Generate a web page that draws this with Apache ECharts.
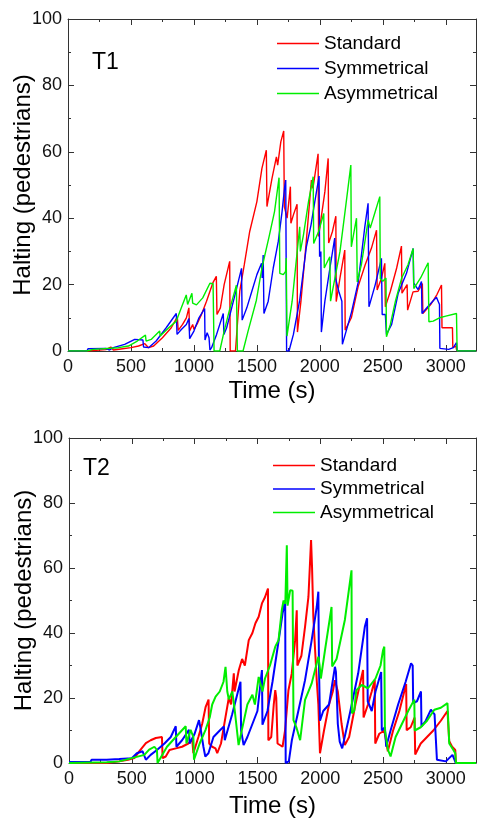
<!DOCTYPE html>
<html>
<head>
<meta charset="utf-8">
<script src="https://cdn.jsdelivr.net/npm/echarts@6/dist/echarts.min.js"></script>
<style>
  html, body { margin: 0; padding: 0; background: #fff; }
  #main { width: 480px; height: 820px; }
</style>
</head>
<body>
<div id="main"></div>
<script>
// series names and panel labels
var names = ['Standard', 'Symmetrical', 'Asymmetrical'];
var panels = ['T1', 'T2'];
var xTicks = [0, 500, 1000, 1500, 2000, 2500, 3000];
var yTicks = [0, 20, 40, 60, 80, 100];

// T1 : [time (s), halting pedestrians]
var t1Standard = [[0,0],[150,0],[300,0.4],[340,1.2],[360,0.3],[420,0.6],[500,1],[560,1.5],[610,2.2],[640,1],[680,1.5],[750,4],[820,7],[868,10.3],[875,6.2],[910,8],[940,10],[960,13],[966,6],[990,8],[1000,6.5],[1030,8.5],[1060,11],[1100,15],[1150,20.5],[1178,22.5],[1183,11],[1210,13],[1240,20],[1284,27],[1288,0],[1330,0],[1364,18],[1400,26],[1443,36],[1500,45],[1540,55],[1575,60.5],[1580,43.5],[1620,52],[1655,58.5],[1665,56],[1690,63],[1713,66.3],[1718,43.5],[1740,40],[1766,49.5],[1770,38.5],[1790,41],[1819,44.2],[1822,5.7],[1850,15],[1890,32],[1933,51.5],[1945,49],[1986,59.4],[1990,34.5],[2010,40],[2040,48],[2066,58],[2070,32.5],[2100,36],[2127,40.6],[2130,14.9],[2160,22],[2198,30.4],[2201,6.3],[2250,10],[2304,19.4],[2360,26],[2410,31],[2450,36.4],[2455,18.4],[2490,22],[2516,26.4],[2520,13.3],[2560,18],[2610,25],[2648,31.6],[2652,17.4],[2693,20],[2697,12.3],[2740,17.8],[2780,18],[2814,20.3],[2818,11.3],[2880,14],[2930,17],[2966,19.9],[2970,7],[3053,7],[3056,1],[3080,1.5],[3088,0],[3240,0]];
var t1Symmetrical = [[0,0],[150,0],[160,0.7],[300,0.8],[330,0.3],[360,1],[450,2],[530,3.5],[595,3.3],[600,1.2],[640,1],[700,3],[780,7],[860,11.3],[866,5],[900,6.5],[940,8],[960,9.8],[966,3.7],[1000,6],[1040,10],[1085,12.8],[1088,3.3],[1105,5.5],[1120,4],[1127,0.3],[1140,1],[1180,5],[1233,11.3],[1238,5],[1260,7],[1300,13],[1340,19],[1378,24.9],[1383,9.3],[1420,13],[1460,18],[1500,23],[1537,26.4],[1542,22],[1550,28.9],[1556,11.3],[1590,15],[1630,25],[1670,33],[1700,42],[1721,49.5],[1729,51.5],[1736,0],[1755,0],[1790,5],[1840,15.3],[1893,31.4],[1930,38],[1960,45],[1994,52.7],[1998,28.4],[2008,30],[2012,5.7],[2040,15],[2080,25],[2118,34],[2124,22],[2150,18],[2175,15],[2179,2],[2252,11.8],[2304,20.6],[2357,37.4],[2383,44.5],[2390,13.3],[2440,20],[2489,27.9],[2495,11],[2520,11],[2529,5],[2570,8],[2622,17.4],[2688,23.4],[2741,30.9],[2745,20.5],[2780,18.5],[2807,20.9],[2811,11.3],[2860,13.5],[2926,16.2],[2950,14],[2953,0.8],[3023,0.5],[3030,0],[3060,1],[3085,2.5],[3090,0],[3240,0]];
var t1Asymmetrical = [[0,0],[150,0],[200,0.5],[400,1],[480,1.5],[550,3],[615,4.8],[620,3],[660,3.5],[728,6],[732,4.5],[800,7],[860,9],[900,13],[939,16.9],[950,14],[984,17.4],[990,14.4],[1000,15],[1020,13.9],[1070,16],[1127,20.4],[1152,20.3],[1160,0],[1205,0],[1240,6],[1280,12],[1337,19.8],[1345,0],[1390,0],[1430,6],[1496,15.3],[1540,25],[1600,35],[1640,42],[1676,52.2],[1682,23.4],[1710,23],[1728,24],[1733,28],[1739,4.5],[1780,15],[1840,37.4],[1845,30],[1870,35],[1910,45],[1947,52.5],[1951,32.4],[1990,36],[2031,41.4],[2035,25],[2079,28.4],[2085,15],[2120,22],[2160,30],[2200,42],[2246,56],[2250,31.4],[2291,40],[2297,20.8],[2330,26],[2384,39.5],[2400,37],[2440,42],[2476,46.5],[2480,21.8],[2500,21],[2525,22],[2529,4.3],[2560,8],[2600,15],[2650,22],[2700,26],[2741,30.9],[2746,18.8],[2800,22],[2860,26.6],[2866,8.8],[2900,9],[2950,10],[3000,10.5],[3085,11.3],[3090,0],[3240,0]];

// T2
var t2Standard = [[0,0],[300,0],[400,0.5],[470,1],[520,1.5],[559,3.6],[612,6.1],[650,7],[691,7.7],[740,8],[745,1.5],[770,2],[800,4],[850,4.5],[900,5],[950,6],[981,7.2],[990,3],[1030,8],[1060,12],[1088,17.3],[1111,19.5],[1116,6],[1140,5],[1166,4.5],[1180,3],[1210,6],[1246,14.2],[1272,20],[1290,18],[1312,27.6],[1318,22],[1352,28.6],[1378,32],[1400,30],[1431,37.8],[1460,40],[1484,43],[1510,45],[1536,49.1],[1560,51],[1584,53.7],[1587,7],[1610,8],[1630,18],[1642,22.4],[1650,20],[1660,6],[1700,5],[1720,10],[1747,22.4],[1773,27.5],[1800,37.8],[1813,47],[1818,30],[1850,33],[1879,41.9],[1906,51.1],[1927,68.6],[1935,60],[1945,45],[1972,25.5],[1985,18],[1998,3],[2030,10],[2070,18],[2100,22],[2117,25.5],[2140,22],[2170,12],[2196,5.5],[2230,8],[2280,18],[2341,28.6],[2345,14],[2380,18],[2410,22],[2434,25.5],[2438,6],[2470,9],[2510,10],[2538,3.6],[2580,10],[2630,16],[2684,24.3],[2688,10.1],[2720,11],[2751,14],[2756,2.6],[2800,6],[2850,8],[2900,10],[2960,13],[3013,16],[3027,6.7],[3050,5],[3075,4],[3080,0],[3240,0]];
var t2Symmetrical = [[0,0.3],[170,0.3],[180,1],[300,1],[400,1.2],[500,1.5],[540,3],[586,3.6],[612,1],[650,2.5],[700,4],[760,6],[810,8],[850,11.3],[855,5],[900,7],[955,10.2],[960,6],[1000,9],[1035,13.2],[1050,10],[1070,5],[1085,2],[1110,3],[1150,8],[1200,10],[1233,11.2],[1240,7],[1299,15],[1365,25],[1370,10],[1390,5.5],[1420,8],[1460,12],[1500,16],[1536,28.6],[1540,11.8],[1580,16],[1620,25],[1670,38],[1700,46],[1721,50],[1725,0],[1750,0.5],[1774,7],[1820,15],[1879,25.5],[1932,37.8],[1972,48],[1985,52.7],[1990,29.7],[1998,13],[2024,16],[2070,18],[2117,29.6],[2125,28],[2140,12],[2155,6.6],[2175,4.5],[2240,16],[2302,27.6],[2355,41.9],[2373,44.5],[2378,19],[2410,16],[2440,22],[2485,28],[2490,10],[2515,11],[2525,5],[2560,10],[2620,18],[2680,25],[2723,30.7],[2736,30],[2740,18.4],[2770,19],[2802,22],[2806,11.3],[2840,13],[2881,16.4],[2910,15],[2929,1],[3000,0.5],[3053,2.5],[3079,0],[3240,0]];
var t2Asymmetrical = [[0,0],[300,0.2],[400,0.5],[500,1.5],[600,2.5],[638,4.1],[680,5],[700,4],[705,0],[720,0.5],[780,5],[850,8],[929,11.3],[935,6],[968,10.2],[990,8],[995,1],[1040,6],[1087,10.2],[1120,14],[1140,18],[1167,20.4],[1200,22],[1230,25],[1246,29.6],[1260,22],[1272,19.6],[1300,22],[1320,16],[1350,5.5],[1378,10.5],[1420,18],[1460,21],[1480,18],[1510,26.5],[1540,22],[1560,26],[1600,30],[1642,35.8],[1668,37.8],[1694,47],[1708,50],[1722,49],[1734,67],[1740,48.4],[1761,53.2],[1780,53],[1787,13.2],[1810,11],[1840,7],[1879,19.4],[1932,24.5],[1985,32.7],[1995,30],[2005,26],[2038,34.7],[2090,48],[2095,29.7],[2130,32],[2196,44],[2249,59.3],[2252,15.3],[2270,16],[2287,22.4],[2330,24],[2380,23],[2440,26],[2480,30],[2500,34.7],[2510,35.8],[2515,10],[2540,4],[2560,2],[2600,8],[2650,12],[2700,16],[2749,19.5],[2752,10],[2800,11],[2850,13],[2908,16.4],[2960,17],[3013,18.4],[3027,6],[3060,4],[3075,3],[3080,0],[3240,0]];

var colors = ['#ff0000', '#0000ff', '#00ee00'];
var font = 'Liberation Sans, Arial, sans-serif';
var chart = echarts.init(document.getElementById('main'));

function xAx(grid, bottom, gap) {
  return {
    type: 'value', gridIndex: grid, position: bottom ? 'bottom' : 'top',
    min: 0, max: 3240, interval: 500,
    name: bottom ? 'Time (s)' : '', nameLocation: 'middle', nameGap: gap,
    nameMoveOverlap: false,
    nameTextStyle: { fontSize: 24, color: '#000', fontFamily: font },
    axisLine: { show: true, onZero: false, lineStyle: { color: '#333', width: 1 } },
    axisTick: { inside: true, length: 6, lineStyle: { color: '#333' } },
    minorTick: { show: true, splitNumber: 2, length: 3, lineStyle: { color: '#333' } },
    splitLine: { show: false },
    axisLabel: {
      show: bottom, fontSize: 18, color: '#111', fontFamily: font, margin: 7,
      showMaxLabel: false,
      formatter: function (v) { return xTicks.indexOf(v) >= 0 ? String(v) : ''; }
    }
  };
}
function yAx(grid, left) {
  return {
    type: 'value', gridIndex: grid, position: left ? 'left' : 'right',
    min: 0, max: 100, interval: 20,
    name: left ? 'Halting (pedestrians)' : '', nameLocation: 'middle', nameGap: 33,
    nameMoveOverlap: false,
    nameTextStyle: { fontSize: 24, color: '#000', fontFamily: font },
    axisLine: { show: true, onZero: false, lineStyle: { color: '#333', width: 1 } },
    axisTick: { inside: true, length: 6, lineStyle: { color: '#333' } },
    minorTick: { show: true, splitNumber: 2, length: 3, lineStyle: { color: '#333' } },
    splitLine: { show: false },
    axisLabel: {
      show: left, fontSize: 18, color: '#111', fontFamily: font, margin: 6,
      formatter: function (v) { return yTicks.indexOf(v) >= 0 ? String(v) : ''; }
    }
  };
}
function line(name, data, idx, w, color) {
  return {
    name: name, type: 'line', data: data,
    xAxisIndex: idx * 2, yAxisIndex: idx * 2,
    showSymbol: false, symbol: 'none', smooth: false,
    lineStyle: { color: color, width: w },
    itemStyle: { color: color },
    clip: true, animation: false
  };
}
function legend(left, top, gap) {
  return {
    orient: 'vertical', left: left, top: top, padding: 0,
    icon: 'rect', itemWidth: 42, itemHeight: 1.5, itemGap: gap,
    selectedMode: false,
    textStyle: { fontSize: 19, color: '#000', fontFamily: font },
    data: names
  };
}

var option = {
  backgroundColor: '#fff',
  animation: false,
  title: [
    { text: panels[0], left: 92, top: 51, padding: 0, textStyle: { fontSize: 23, fontWeight: 'normal', color: '#000', fontFamily: font } },
    { text: panels[1], left: 83, top: 457, padding: 0, textStyle: { fontSize: 23, fontWeight: 'normal', color: '#000', fontFamily: font } }
  ],
  legend: [legend(277, 34, 6), legend(273, 456, 4.5)],
  grid: [
    { left: 68, top: 19, width: 408, height: 332, containLabel: false, outerBoundsMode: 'none' },
    { left: 69, top: 438, width: 407, height: 325, containLabel: false, outerBoundsMode: 'none' }
  ],
  xAxis: [xAx(0, true, 28), xAx(0, false, 0), xAx(1, true, 31), xAx(1, false, 0)],
  yAxis: [yAx(0, true), yAx(0, false), yAx(1, true), yAx(1, false)],
  series: [
    line(names[0], t1Standard, 0, 1.4, colors[0]),
    line(names[1], t1Symmetrical, 0, 1.4, colors[1]),
    line(names[2], t1Asymmetrical, 0, 1.4, colors[2]),
    line(names[0], t2Standard, 1, 2, colors[0]),
    line(names[1], t2Symmetrical, 1, 2, colors[1]),
    line(names[2], t2Asymmetrical, 1, 2, colors[2])
  ]
};
chart.setOption(option);
</script>
</body>
</html>
